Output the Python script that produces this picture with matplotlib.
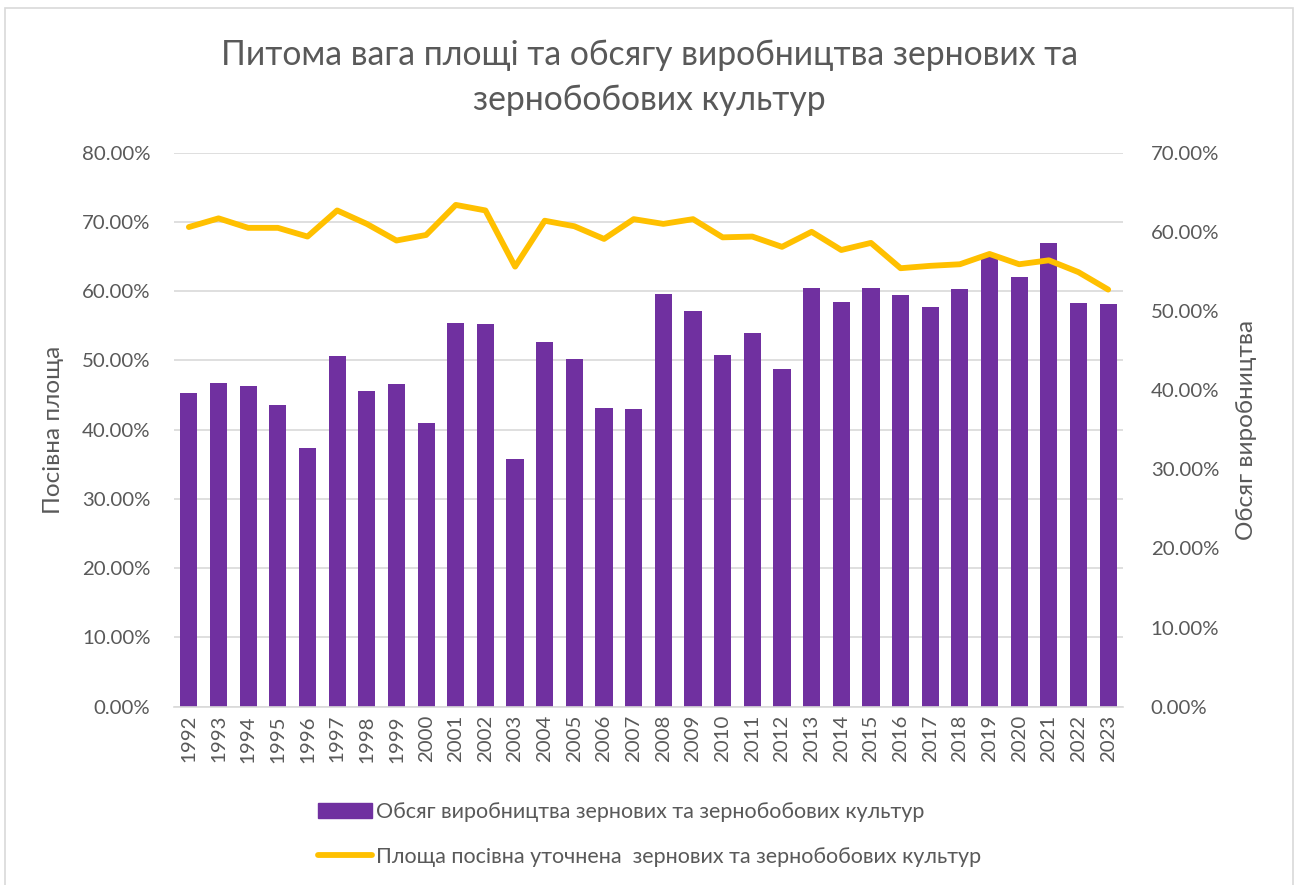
import matplotlib.pyplot as plt
from matplotlib.ticker import PercentFormatter
from matplotlib.patches import Rectangle
from matplotlib.lines import Line2D

plt.rcParams['font.family'] = ['Lato', 'DejaVu Sans']

years = [str(y) for y in range(1992, 2024)]
production_share = [45.3, 46.8, 46.3, 43.6, 37.4, 50.6, 45.6, 46.6, 41.0, 55.4,
                    55.3, 35.8, 52.6, 50.2, 43.2, 43.0, 59.6, 57.1, 50.8, 54.0,
                    48.8, 60.5, 58.4, 60.4, 59.5, 57.7, 60.3, 64.9, 62.0, 67.0,
                    58.3, 58.2]
area_share = [60.6, 61.7, 60.5, 60.5, 59.4, 62.7, 61.0, 58.9, 59.6, 63.4,
              62.7, 55.6, 61.4, 60.7, 59.1, 61.6, 61.0, 61.6, 59.3, 59.4,
              58.1, 60.0, 57.7, 58.6, 55.4, 55.7, 55.9, 57.2, 55.9, 56.4,
              54.9, 52.7]

bar_label = "Обсяг виробництва зернових та зернобобових культур"
line_label = "Площа посівна уточнена  зернових та зернобобових культур"
text_color = "#595959"
grid_color = "#D9D9D9"

fig = plt.figure(figsize=(12.99, 8.85), dpi=100)
ax = fig.add_axes([0.134, 0.2015, 0.7305, 0.626])
ax2 = ax.twinx()

x = range(len(years))
ax.bar(x, production_share, width=0.58, color="#7030A0", zorder=2)
ax2.plot(x, area_share, color="#FFC000", linewidth=4.2, solid_joinstyle='round',
         solid_capstyle='round', zorder=3)

ax.set_xlim(-0.5, len(years) - 0.5)
ax.set_ylim(0, 80)
ax2.set_ylim(0, 70)
ax.set_yticks(range(0, 81, 10))
ax2.set_yticks(range(0, 71, 10))
ax.yaxis.set_major_formatter(PercentFormatter(decimals=2))
ax2.yaxis.set_major_formatter(PercentFormatter(decimals=2))
ax.set_xticks(list(x))
ax.set_xticklabels(years, rotation=90)

ax.grid(axis='y', color=grid_color, linewidth=1.2, zorder=0)
ax.set_axisbelow(True)
for a in (ax, ax2):
    for s in a.spines.values():
        s.set_visible(False)
    a.tick_params(length=0, labelsize=14.7, colors=text_color)
ax.spines['bottom'].set_visible(True)
ax.spines['bottom'].set_color(grid_color)
ax.spines['bottom'].set_linewidth(1.2)
ax.tick_params(axis='y', pad=17)
ax2.tick_params(axis='y', pad=20)
ax.tick_params(axis='x', pad=6)

ax.set_ylabel("Посівна площа", fontsize=17.5, color=text_color, labelpad=13)
ax2.set_ylabel("Обсяг виробництва", fontsize=17.5, color=text_color, labelpad=12)

fig.text(0.5, 0.938, "Питома вага площі та обсягу виробництва зернових та",
         ha='center', va='center', fontsize=24.3, color=text_color)
fig.text(0.5, 0.887, "зернобобових культур",
         ha='center', va='center', fontsize=24.3, color=text_color)

handles = [Rectangle((0, 0), 1, 1, color="#7030A0"),
           Line2D([], [], color="#FFC000", linewidth=4.2, solid_capstyle='round')]
leg = fig.legend(handles, [bar_label, line_label], loc='center',
                 bbox_to_anchor=(0.5, 0.057), ncol=1, frameon=False,
                 fontsize=15.5, labelcolor=text_color, handlelength=2.5,
                 handletextpad=0.2, labelspacing=1.15)

fig.add_artist(Rectangle((5 / 1299, -0.01), 1288 / 1299, 1 - 8 / 885 + 0.01,
                         transform=fig.transFigure, fill=False,
                         edgecolor=grid_color, linewidth=1.2))

fig.savefig("out.png", dpi=100)
